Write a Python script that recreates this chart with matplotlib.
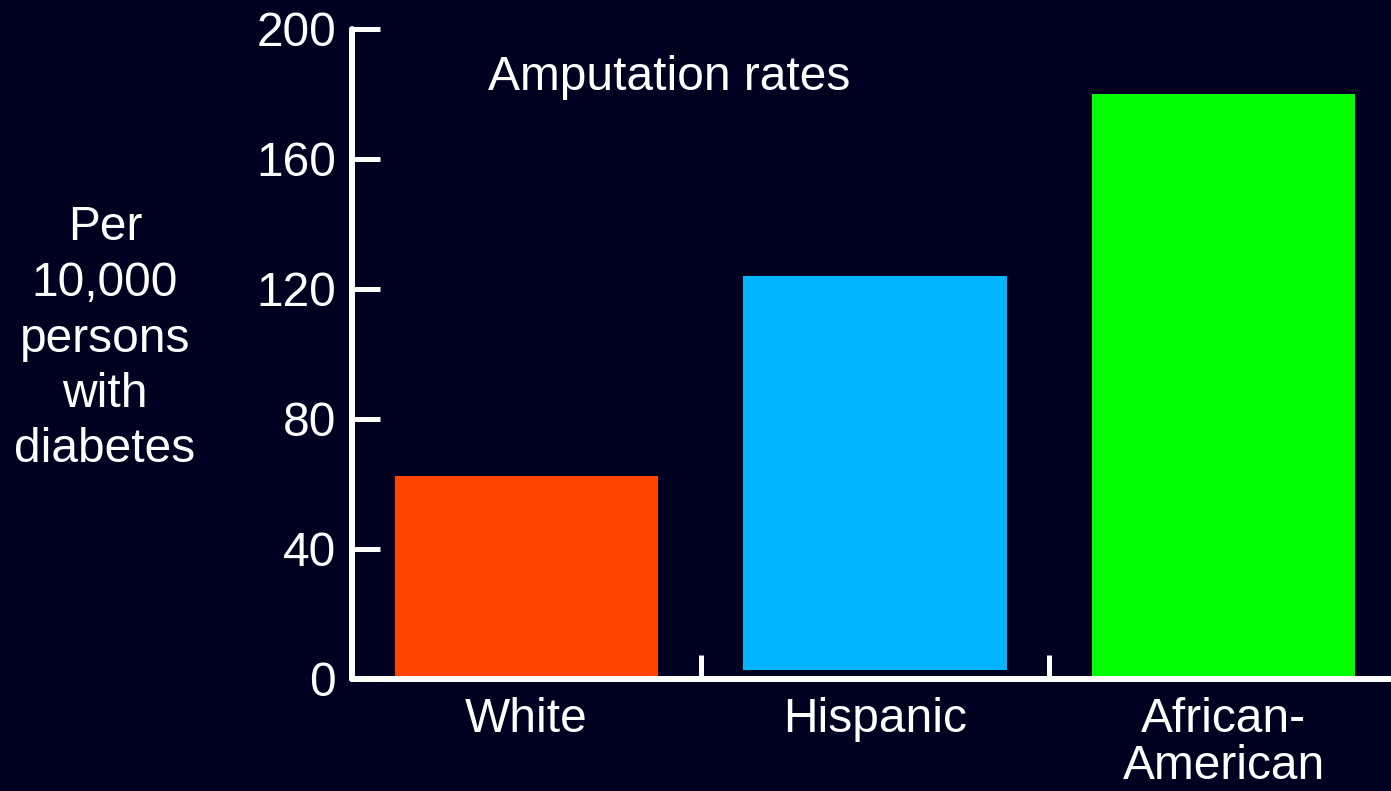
import matplotlib
matplotlib.use("Agg")
import matplotlib.pyplot as plt

categories = ["White", "Hispanic", "African-\nAmerican"]
rates = [62.5, 124, 180]
bar_colors = ["#FF4500", "#00B4FF", "#00FF00"]
y_ticks = [0, 40, 80, 120, 160, 200]
title_text = "Amputation rates"
y_label = "Per\n10,000\npersons\nwith\ndiabetes"

BG = "#000020"
FONT = "Liberation Sans"
FS = 34.5

fig = plt.figure(figsize=(13.91, 7.91), dpi=100, facecolor=BG)
ax = fig.add_axes([352/1391, (791-679)/791, (1398-352)/1391, (679-29)/791])
ax.set_facecolor(BG)

x = list(range(len(categories)))
bases = [0, 2.8, 0]
heights = [r - b for r, b in zip(rates, bases)]
ax.bar(x, heights, bottom=bases, width=0.755, color=bar_colors, zorder=2)

ax.set_xlim(-0.5, 2.5)
ax.set_ylim(0, 200)

for s in ["top", "right"]:
    ax.spines[s].set_visible(False)
for s in ["left", "bottom"]:
    ax.spines[s].set_color("white")
    ax.spines[s].set_linewidth(4.3)
    ax.spines[s].set_capstyle("round")
    ax.spines[s].set_zorder(3)

ax.set_yticks(y_ticks)
ax.set_yticklabels([str(t) for t in y_ticks], fontsize=FS, family=FONT, color="white")
ax.tick_params(axis="y", direction="in", length=20, width=3.6, color="white", pad=11.5)

ax.set_xticks(x)
ax.set_xticklabels(categories, fontsize=FS, family=FONT, color="white", linespacing=1.05)
ax.tick_params(axis="x", which="major", length=0, pad=13)
ax.set_xticks([0.5, 1.5], minor=True)
ax.tick_params(axis="x", which="minor", direction="in", length=17, width=3.6, color="white")

ax.text(-0.11, 185, title_text, fontsize=FS, family=FONT, color="white",
        ha="left", va="center")

fig.text(105/1391, 1 - 339/791, y_label, fontsize=FS, family=FONT, color="white",
         ha="center", va="center", linespacing=1.3)

fig.savefig("out.png", dpi=100, facecolor=BG)
